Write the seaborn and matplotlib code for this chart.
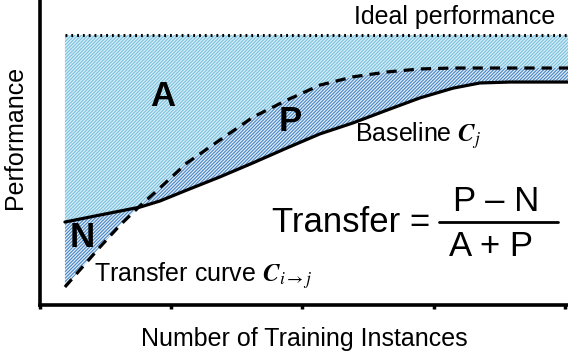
import matplotlib
matplotlib.use('Agg')
import matplotlib.pyplot as plt
import seaborn as sns
import numpy as np

# conceptual learning curves (x: training instances, y: performance 0-100)
x_inst = [0.19, 0.457, 0.61, 0.762, 0.914, 1.12, 1.371, 1.623, 1.882, 2.133,
          2.385, 2.644, 2.895, 3.147, 3.352, 3.581, 4.023]
baseline = [27.2, 29.5, 30.8, 32.1, 34.1, 37.7, 42.0, 46.6, 51.5, 56.1,
            59.7, 63.9, 67.9, 71.1, 72.8, 73.1, 73.1]
transfer = [5.9, 19.0, 26.2, 32.5, 38.4, 46.6, 54.1, 61.6, 67.2, 72.1,
            74.8, 76.4, 77.4, 77.7, 77.7, 77.7, 77.7]
ideal = 88.5
x_ticks = [0, 1, 2, 3, 4]

sns.set_theme(style='white')
plt.rcParams['font.family'] = ['Liberation Sans', 'DejaVu Sans']
plt.rcParams['mathtext.fontset'] = 'stix'
plt.rcParams['hatch.linewidth'] = 0.8
plt.rcParams['text.color'] = 'black'
plt.rcParams['axes.labelcolor'] = 'black'

fig = plt.figure(figsize=(5.68, 3.55), dpi=100)
ax = fig.add_axes([40/568, 50/355, 528/568, 305/355])

x = np.array(x_inst)
b = np.array(baseline)
t = np.array(transfer)
top = np.maximum(b, t)

# A: ideal down to the upper curve
ax.fill_between(x, top, ideal, facecolor='#d6eff8', edgecolor='#7cc0dd',
                hatch='/' * 10, linewidth=0)
# P and N: between the curves
ax.fill_between(x, b, t, facecolor='#e2eff9', edgecolor='#4684c2',
                hatch='/' * 10, linewidth=0)

sns.lineplot(x=x, y=b, ax=ax, color='black', lw=2.3, sort=False)
sns.lineplot(x=x, y=t, ax=ax, color='black', lw=2.3, sort=False,
             linestyle=(0, (3.2, 2.2)))
ax.hlines(ideal, x[0], x[-1], colors='black', lw=2.2, linestyles=(0, (0.6, 1.3)))

ax.set_xlim(0, 4.023)
ax.set_ylim(0, 100)
ax.set_xticks(x_ticks)
ax.set_xticklabels([])
ax.set_yticks([])
ax.tick_params(axis='x', direction='out', length=3, width=2.5, color='black',
               bottom=True)
for s in ['top', 'right']:
    ax.spines[s].set_visible(False)
for s in ['left', 'bottom']:
    ax.spines[s].set_linewidth(2.6)
    ax.spines[s].set_color('black')

ax.set_xlabel('Number of Training Instances', fontsize=18, labelpad=9)
ax.set_ylabel('Performance', fontsize=18, labelpad=9, y=0.55)

ax.text(3.162, 94.5, 'Ideal performance', fontsize=18, ha='center', va='center')
ax.text(0.937, 68.5, 'A', fontsize=25, fontweight='bold', ha='center', va='center')
ax.text(1.905, 60, 'P', fontsize=25, fontweight='bold', ha='center', va='center')
ax.text(0.32, 22, 'N', fontsize=25, fontweight='bold', ha='center', va='center')
ax.text(2.4, 55.4, r'Baseline $\mathbfit{C}_{j}$', fontsize=18, ha='left', va='center')
ax.text(0.41, 9.5, r'Transfer curve $\mathbfit{C}_{i\rightarrow j}$', fontsize=18,
        ha='left', va='center')

ax.text(2.971, 27.2, 'Transfer =', fontsize=25, ha='right', va='center')
ax.text(3.474, 33.8, 'P – N', fontsize=25, ha='center', va='center')
ax.text(3.44, 19.3, 'A + P', fontsize=25, ha='center', va='center')
ax.plot([3.04, 3.947], [27.2, 27.2], color='black', lw=2.0)

fig.savefig('out.png', dpi=100)
